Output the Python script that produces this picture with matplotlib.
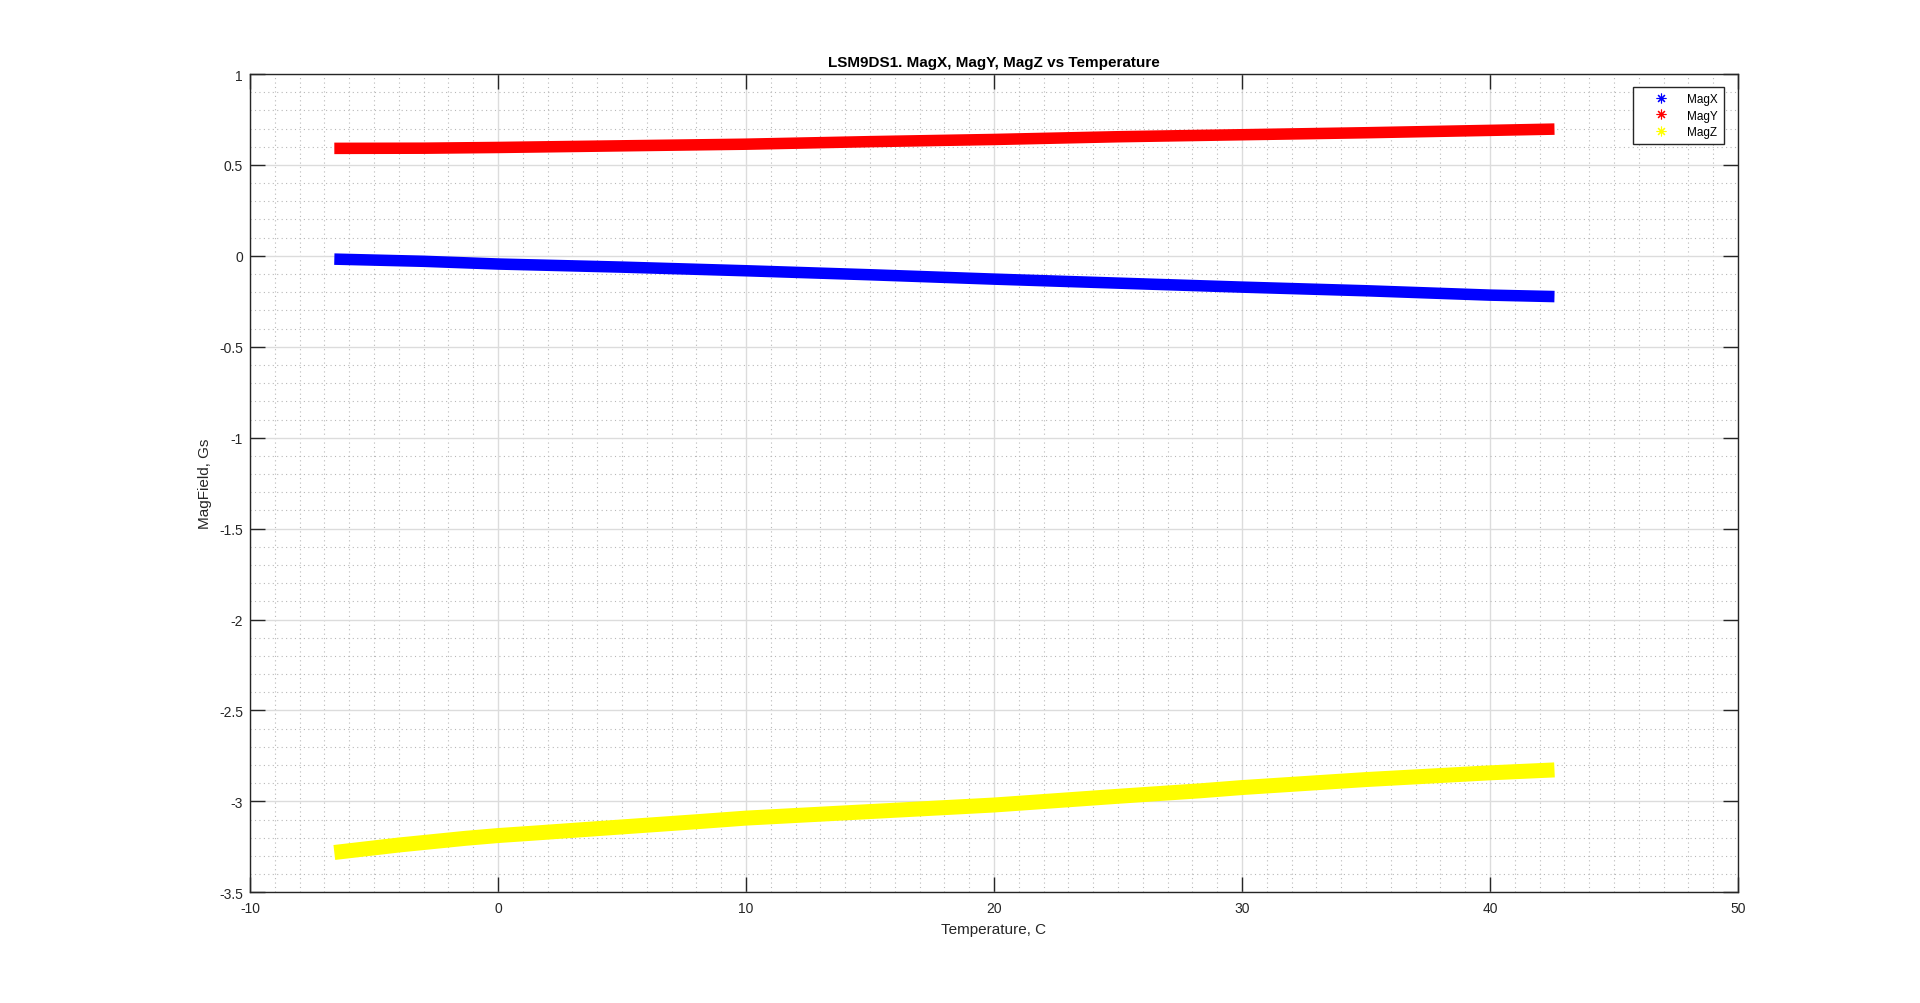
import matplotlib

matplotlib.use("Agg")
import matplotlib.pyplot as plt
from matplotlib.ticker import MultipleLocator

plt.rcParams["font.family"] = ["Liberation Sans", "DejaVu Sans"]

# values (centre of each band)
temp_x = [-6.6, -3.0, 0.0, 5.0, 10.0, 15.0, 20.0, 25.0, 30.0, 35.0, 40.0, 42.6]
mag_x = [-0.018, -0.030, -0.045, -0.062, -0.082, -0.104, -0.128, -0.150, -0.172,
         -0.192, -0.216, -0.224]

temp_y = [-6.6, -3.0, 0.0, 5.0, 10.0, 15.0, 20.0, 25.0, 30.0, 35.0, 40.0, 42.6]
mag_y = [0.591, 0.592, 0.596, 0.605, 0.614, 0.628, 0.640, 0.655, 0.666, 0.677,
         0.690, 0.697]

temp_z = [-6.6, -4.0, -1.3, 0.0, 1.4, 4.0, 8.0, 10.0, 15.0, 20.0, 25.0, 28.3,
          30.0, 35.0, 40.0, 42.6]
mag_z = [-3.281, -3.240, -3.203, -3.188, -3.175, -3.150, -3.112, -3.092, -3.056,
         -3.020, -2.972, -2.942, -2.924, -2.880, -2.843, -2.827]

series = [
    ("MagX", temp_x, mag_x, "#0000ff", 8.3),
    ("MagY", temp_y, mag_y, "#ff0000", 8.3),
    ("MagZ", temp_z, mag_z, "#ffff00", 10.8),
]

fig = plt.figure(figsize=(19.2, 10.04), dpi=100)
ax = fig.add_axes([250 / 1920, 1 - 893.3 / 1004, (1738 - 250) / 1920, (893.3 - 75) / 1004])

asterisk = (8, 2, 0)
for name, t, v, color, lw in series:
    ax.plot(t, v, color=color, linewidth=lw, solid_capstyle="butt",
            solid_joinstyle="round", zorder=3)
    ax.plot([], [], linestyle="none", marker=asterisk, markersize=7,
            markeredgewidth=0.8, color=color, label=name)

ax.set_xlim(-10, 50)
ax.set_ylim(-3.5, 1)
ax.xaxis.set_major_locator(MultipleLocator(10))
ax.xaxis.set_minor_locator(MultipleLocator(1))
ax.yaxis.set_major_locator(MultipleLocator(0.5))
ax.yaxis.set_minor_locator(MultipleLocator(0.1))
ax.yaxis.set_major_formatter(plt.FuncFormatter(lambda v, _: f"{v:g}"))
ax.xaxis.set_major_formatter(plt.FuncFormatter(lambda v, _: f"{v:g}"))

ax.grid(which="major", color="#dcdcdc", linewidth=1.0, linestyle="-", zorder=0)
ax.grid(which="minor", color="#b8b8b8", linewidth=0.8, linestyle=(0, (1, 3)), zorder=0)
ax.set_axisbelow(True)

ax.tick_params(which="major", direction="in", length=10.5, width=1.0, color="#262626",
               top=True, right=True, labelsize=10, labelcolor="#262626")
ax.tick_params(which="minor", length=0, top=True, right=True)
ax.tick_params(axis="x", pad=6)
ax.tick_params(axis="y", pad=5)
for sp in ax.spines.values():
    sp.set_color("#262626")
    sp.set_linewidth(1.0)

ax.set_title("LSM9DS1. MagX, MagY, MagZ vs Temperature", fontsize=11,
             fontweight="bold", pad=6)
ax.set_xlabel("Temperature, C", fontsize=11, color="#262626", labelpad=5)
ax.set_ylabel("MagField, Gs", fontsize=11, color="#262626", labelpad=5)

leg = ax.legend(loc="upper right", bbox_to_anchor=(1724 / 1920, 1 - 88 / 1004),
                bbox_transform=fig.transFigure, borderaxespad=0, fontsize=8.5,
                fancybox=False, framealpha=1, edgecolor="#262626",
                handlelength=3.6, handletextpad=0.4, labelspacing=0.35, borderpad=0.55)
leg.get_frame().set_linewidth(1.0)

fig.savefig("out.png", dpi=100)
